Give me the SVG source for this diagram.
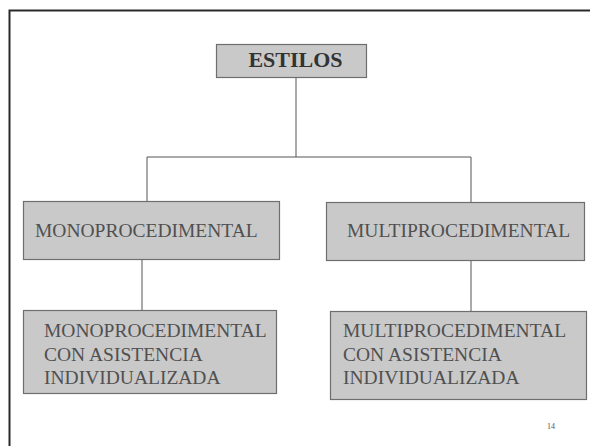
<svg xmlns="http://www.w3.org/2000/svg" width="590" height="446" viewBox="0 0 590 446">
<style>
.box{fill:#c9c9c9;stroke:#6e6e6e;stroke-width:1.2}
.t{font-family:"Liberation Serif","Times New Roman",serif;font-size:19.5px;fill:#505050}
.h{font-family:"Liberation Serif","Times New Roman",serif;font-size:22px;font-weight:bold;fill:#333}
.c{stroke:#555;stroke-width:1;fill:none}
</style>
<rect width="590" height="446" fill="#fff"/>
<path d="M9.5 446 V10.5 H590" fill="none" stroke="#2a2a2a" stroke-width="2"/>
<g id="connectors">
<path class="c" d="M296 78 V157"/>
<path class="c" d="M147 157 H471"/>
<path class="c" d="M147 157 V201"/>
<path class="c" d="M471 157 V202"/>
<path class="c" d="M142 259 V310"/>
<path class="c" d="M471 260 V311"/>
</g>
<g id="estilos">
<rect class="box" x="216.5" y="44.5" width="150" height="33"/>
<text class="h" x="295.5" y="67" text-anchor="middle">ESTILOS</text>
</g>
<g id="mono">
<rect class="box" x="23.5" y="201.5" width="256" height="58"/>
<text class="t" x="35" y="237">MONOPROCEDIMENTAL</text>
</g>
<g id="multi">
<rect class="box" x="326.5" y="202.5" width="258" height="58"/>
<text class="t" x="347" y="237">MULTIPROCEDIMENTAL</text>
</g>
<g id="mono-asist">
<rect class="box" x="23.5" y="310.5" width="253" height="83"/>
<text class="t" x="44" y="337">MONOPROCEDIMENTAL</text>
<text class="t" x="44" y="360.5">CON ASISTENCIA</text>
<text class="t" x="44" y="384">INDIVIDUALIZADA</text>
</g>
<g id="multi-asist">
<rect class="box" x="330.5" y="311.5" width="256" height="88"/>
<text class="t" x="343" y="337">MULTIPROCEDIMENTAL</text>
<text class="t" x="343" y="360.5">CON ASISTENCIA</text>
<text class="t" x="343" y="384">INDIVIDUALIZADA</text>
</g>
<text x="547" y="429" font-family="Liberation Serif, serif" font-size="8" fill="#555">14</text>
</svg>
